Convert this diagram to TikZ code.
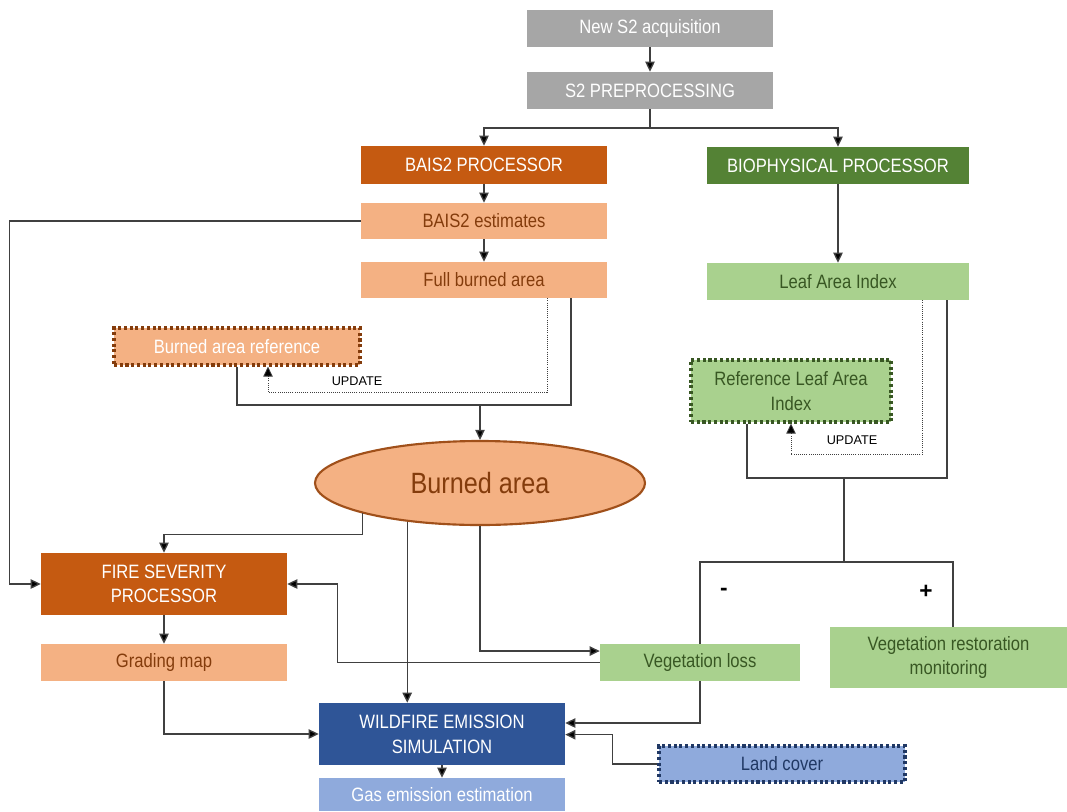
\documentclass[tikz,border=0pt]{standalone}
\usepackage{fontspec}
\setmainfont{Liberation Sans}[FakeStretch=0.86]
\newfontfamily\plainsans{Liberation Sans}
\usetikzlibrary{arrows.meta,shapes.geometric}
\definecolor{cgray}{HTML}{A6A6A6}
\definecolor{corange}{HTML}{C55A11}
\definecolor{clorange}{HTML}{F4B183}
\definecolor{cbrown}{HTML}{843C0C}
\definecolor{cdgreen}{HTML}{548235}
\definecolor{clgreen}{HTML}{A9D18E}
\definecolor{cgtext}{HTML}{385723}
\definecolor{cdblue}{HTML}{2F5597}
\definecolor{clblue}{HTML}{8FAADC}
\definecolor{cbtext}{HTML}{203864}
\definecolor{cline}{HTML}{404040}
\definecolor{cellb}{HTML}{A0501A}
\begin{document}
\begin{tikzpicture}[x=0.75pt,y=-0.75pt,
  box/.style={rectangle, inner sep=0pt, align=center, font=\fontsize{14.5}{18.5}\selectfont},
  graybox/.style={box, fill=cgray, text=white},
  darkorange/.style={box, fill=corange, text=white},
  lightorange/.style={box, fill=clorange, text=cbrown},
  darkgreen/.style={box, fill=cdgreen, text=white},
  lightgreen/.style={box, fill=clgreen, text=cgtext},
  darkblue/.style={box, fill=cdblue, text=white},
  lightblue/.style={box, fill=clblue, text=white},
  dotborder/.style={line width=2.3pt, dash pattern=on 2.3pt off 2pt},
  conn/.style={draw=cline, line width=1pt},
  arr/.style={conn, -{Triangle[length=7.5pt,width=7pt,fill=black]}},
  upd/.style={draw=cline, line width=0.6pt, densely dotted},
  updarr/.style={upd, -{Triangle[length=7.5pt,width=7pt,fill=black]}},
  updlabel/.style={font=\plainsans\fontsize{9.5}{11}\selectfont, inner sep=0pt},
  signlabel/.style={font=\plainsans\bfseries\fontsize{17}{19}\selectfont, inner sep=0pt}
]
\useasboundingbox (0,0) rectangle (1067,811);

% nodes
\node[graybox, minimum width=184.5pt, minimum height=27.75pt] (acq) at (650,28.5) {New S2 acquisition};
\node[graybox, minimum width=184.5pt, minimum height=27.75pt] (pre) at (650,90.5) {S2 PREPROCESSING};
\node[darkorange, minimum width=184.5pt, minimum height=28.5pt] (bais) at (484,165) {BAIS2 PROCESSOR};
\node[darkgreen, minimum width=196.5pt, minimum height=27.75pt] (bio) at (838,165.5) {BIOPHYSICAL PROCESSOR};
\node[lightorange, minimum width=184.5pt, minimum height=27pt] (est) at (484,221) {BAIS2 estimates};
\node[lightorange, minimum width=184.5pt, minimum height=27pt] (full) at (484,280) {Full burned area};
\node[box, fill=clorange, text=white, draw=cbrown, dotborder, minimum width=184.5pt, minimum height=27.75pt] (bref) at (237,346.5) {Burned area reference};
\node[lightgreen, minimum width=196.5pt, minimum height=27.75pt] (lai) at (838,281.5) {Leaf Area Index};
\node[box, fill=clgreen, text=cgtext, draw=cgtext, dotborder, minimum width=150pt, minimum height=46.5pt] (rlai) at (791,391) {Reference Leaf Area\\Index};
\node[ellipse, fill=clorange, draw=cellb, line width=1.6pt, minimum width=247.5pt, minimum height=63pt, inner sep=0pt, text=cbrown, font=\fontsize{22}{26}\selectfont] (ell) at (480,483) {Burned area};
\node[darkorange, minimum width=184.5pt, minimum height=46.5pt] (fsp) at (164,584) {FIRE SEVERITY\\PROCESSOR};
\node[lightorange, minimum width=184.5pt, minimum height=27.75pt] (grad) at (164,662.5) {Grading map};
\node[lightgreen, minimum width=150pt, minimum height=27.75pt] (vloss) at (700,662.5) {Vegetation loss};
\node[lightgreen, minimum width=177.75pt, minimum height=45.75pt] (vrest) at (948.5,657.5) {Vegetation restoration\\monitoring};
\node[darkblue, minimum width=184.5pt, minimum height=46.5pt] (wes) at (442,734) {WILDFIRE EMISSION\\SIMULATION};
\node[lightblue, minimum width=184.5pt, minimum height=24.75pt] (gas) at (442,794.5) {Gas emission estimation};
\node[box, fill=clblue, text=cbtext, draw=cbtext, dotborder, minimum width=184.5pt, minimum height=27pt] (land) at (782,764) {Land cover};

% labels
\node[updlabel] (u1) at (357,381) {UPDATE};
\node[updlabel] (u2) at (852,440) {UPDATE};
\node[signlabel] (minus) at (724,592) {-};
\node[signlabel] (plus) at (926,592) {+};

% coordinates
\coordinate (sp) at (650,128);
\coordinate (m1) at (480,405);
\coordinate (m2) at (844,478);
\coordinate (m3) at (844,562);

% connectors
\draw[arr] (acq) -- (pre);
\draw[conn] (pre.south) -- (sp);
\draw[arr] (sp) -| (bais.north);
\draw[arr] (sp) -| (bio.north);
\draw[arr] (bais) -- (est);
\draw[arr] (est) -- (full);
\draw[arr] (est.west) -- ++(-351,0) |- (fsp.west);
\draw[updarr] ([xshift=47.25pt]full.south) -- ++(0,94) -| ([xshift=23.25pt]bref.south);
\draw[conn] ([xshift=65.25pt]full.south) |- (m1);
\draw[conn] (bref.south) |- (m1);
\draw[arr] (m1) -- (ell.north);
\draw[arr] (ell.south west) -- ++(0,21) -| (fsp.north);
\draw[arr] (ell.-152) -- (ell.-152 |- wes.north);
\draw[arr] (ell.south) |- ([yshift=8.6pt]vloss.west);
\draw[arr] (vloss.west) -| ([xshift=37.5pt]fsp.east) -- (fsp.east);
\draw[arr] (fsp) -- (grad);
\draw[arr] (grad.south) |- (wes.west);
\draw[arr] (wes) -- (gas);
\draw[arr] (vloss.south) |- ([yshift=8.25pt]wes.east);
\draw[arr] (land.west) -- ++(-45,0) |- ([yshift=-0.5pt]wes.east);
\draw[arr] (bio) -- (lai);
\draw[updarr] ([xshift=63pt]lai.south) -- ++(0,154) -| (rlai.south);
\draw[conn] ([xshift=81.75pt]lai.south) |- (m2);
\draw[conn] ([xshift=-33pt]rlai.south) |- (m2);
\draw[conn] (m2) -- (m3);
\draw[conn] (m3) -| (vloss.north);
\draw[conn] (m3) -| ([xshift=3.4pt]vrest.north);
\end{tikzpicture}
\end{document}
